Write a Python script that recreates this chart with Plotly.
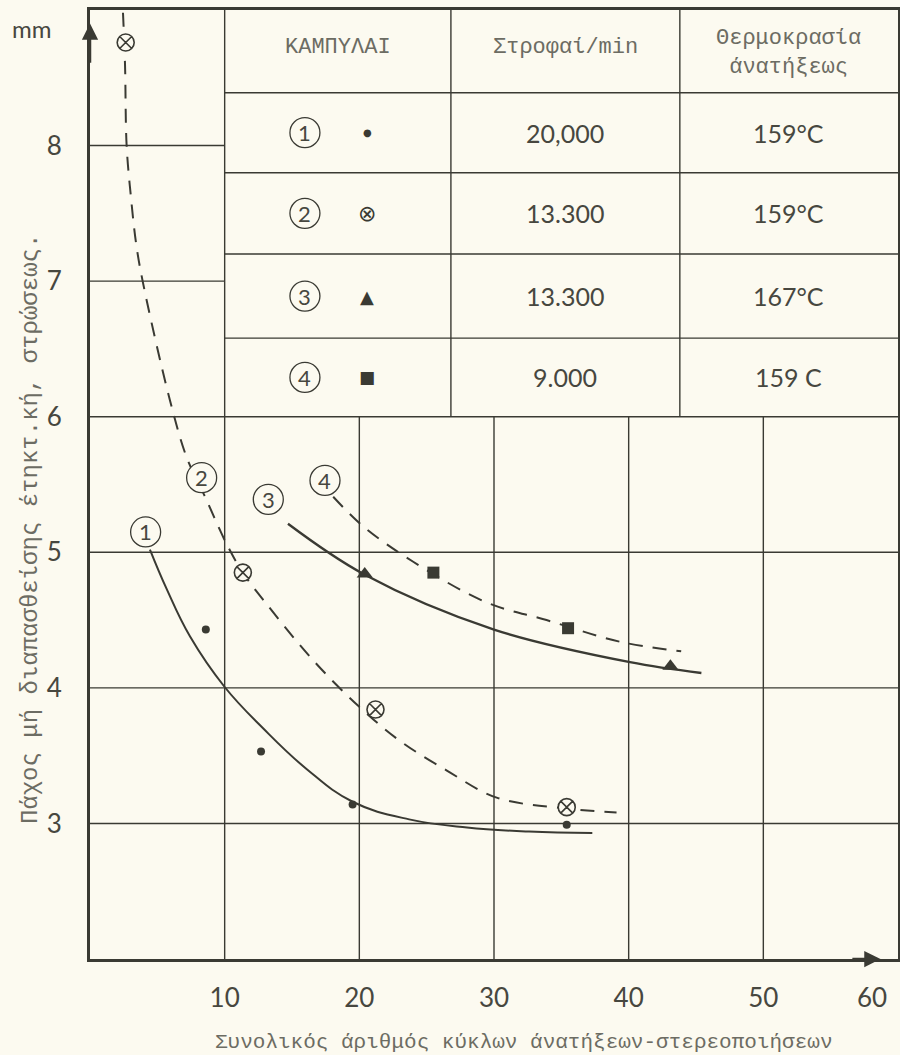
import plotly.graph_objects as go

# ---------------- data ----------------
# measured points
s1_x = [8.6, 12.7, 19.5, 35.4]
s1_y = [4.43, 3.53, 3.14, 2.99]
s2_x = [2.65, 11.35, 21.2, 35.4]
s2_y = [8.76, 4.85, 3.84, 3.12]
s3_x = [20.4, 43.1]
s3_y = [4.84, 4.16]
s4_x = [25.5, 35.5]
s4_y = [4.85, 4.44]

# fitted curves
c1_x = [4.45, 5.69, 7.42, 9.97, 12.87, 16.1, 19.5, 23.7, 28.0, 32.6, 37.3]
c1_y = [5.02, 4.73, 4.38, 4.01, 3.70, 3.40, 3.16, 3.03, 2.97, 2.94, 2.93]
c2_x = [2.45, 2.6, 2.72, 3.04, 3.42, 3.91, 5.94, 7.18, 8.54, 10.15, 11.35, 13.1, 16.6, 20.0, 23.0, 26.5, 30.2, 35.4, 39.1]
c2_y = [8.98, 8.6, 8.0, 7.62, 7.28, 7.0, 6.12, 5.70, 5.41, 5.06, 4.85, 4.62, 4.2, 3.86, 3.61, 3.39, 3.19, 3.11, 3.08]
c3_x = [14.7, 20.3, 30.0, 40.1, 45.4]
c3_y = [5.21, 4.84, 4.43, 4.19, 4.11]
c4_x = [18.06, 20.3, 24.0, 29.45, 33.9, 39.35, 43.9]
c4_y = [5.41, 5.19, 4.93, 4.63, 4.50, 4.34, 4.27]

curve_labels = ["1", "2", "3", "4"]
label_x = [4.13, 8.29, 13.24, 17.45]
label_y = [5.15, 5.55, 5.39, 5.53]

x_ticks = [10, 20, 30, 40, 50]
y_ticks = [3, 4, 5, 6, 7, 8]

table_header = ["ΚΑΜΠΥΛΑΙ", "Στροφαί/min", "Θερμοκρασία<br>άνατήξεως"]
table_symbols = ["●", "⊗", "▲", "■"]
table_rpm = ["20,000", "13.300", "13.300", "9.000"]
table_temp = ["159°C", "159°C", "167°C", "159 C"]

# ---------------- styling ----------------
BG = "#fcfaf0"
INK = "#3a3a33"
TXT = "#47473f"
TYPE = "#6c6c63"
NUMFONT = "Lato, Open Sans, sans-serif"
MONO = "Liberation Mono, DejaVu Sans Mono, monospace"

fig = go.Figure()

# curves
fig.add_trace(go.Scatter(x=c1_x, y=c1_y, mode="lines", line=dict(color=INK, width=2, shape="spline", smoothing=1.2), hoverinfo="skip"))
fig.add_trace(go.Scatter(x=c2_x, y=c2_y, mode="lines", line=dict(color=INK, width=2, dash="14px,10px", shape="spline", smoothing=1.0), hoverinfo="skip"))
fig.add_trace(go.Scatter(x=c3_x, y=c3_y, mode="lines", line=dict(color=INK, width=2.4, shape="spline", smoothing=1.0), hoverinfo="skip"))
fig.add_trace(go.Scatter(x=c4_x, y=c4_y, mode="lines", line=dict(color=INK, width=2, dash="14px,10px", shape="spline", smoothing=1.0), hoverinfo="skip"))

# points
fig.add_trace(go.Scatter(x=s1_x, y=s1_y, mode="markers", marker=dict(symbol="circle", size=8, color=INK)))
fig.add_trace(go.Scatter(x=s2_x, y=s2_y, mode="markers", marker=dict(symbol="circle-x", size=17, color=BG, line=dict(color=INK, width=1.6))))
fig.add_trace(go.Scatter(x=s3_x, y=s3_y, mode="markers", marker=dict(symbol="triangle-up", size=14, color=INK)))
fig.add_trace(go.Scatter(x=s4_x, y=s4_y, mode="markers", marker=dict(symbol="square", size=12, color=INK)))

shapes = []
annotations = []

def circled(xc, yc, txt):
    shapes.append(dict(type="circle", xref="x", yref="y", xsizemode="pixel", ysizemode="pixel",
                       xanchor=xc, yanchor=yc, x0=-15, x1=15, y0=-15, y1=15,
                       line=dict(color=INK, width=1.3), fillcolor=BG, layer="above"))
    annotations.append(dict(x=xc, y=yc, xref="x", yref="y", text=txt, showarrow=False,
                            font=dict(family=NUMFONT, size=22, color=TXT), xanchor="center", yanchor="middle"))

for t, xx, yy in zip(curve_labels, label_x, label_y):
    circled(xx, yy, t)

# grid lines
gl = dict(color=INK, width=1.4)
for v in x_ticks:
    top = 9 if v == 10 else 6
    shapes.append(dict(type="line", xref="x", yref="y", x0=v, x1=v, y0=2, y1=top, line=gl, layer="below"))
for v in y_ticks:
    right = 60 if v <= 6 else 10
    shapes.append(dict(type="line", xref="x", yref="y", x0=0, x1=right, y0=v, y1=v, line=gl, layer="below"))

# table
T_LEFT, T_RIGHT = 10, 60
T_COLS = [26.8, 43.8]
T_ROWS = [8.39, 7.80, 7.20, 6.58]
for cx in T_COLS:
    shapes.append(dict(type="line", xref="x", yref="y", x0=cx, x1=cx, y0=6, y1=9, line=gl, layer="below"))
for ry in T_ROWS:
    shapes.append(dict(type="line", xref="x", yref="y", x0=T_LEFT, x1=T_RIGHT, y0=ry, y1=ry, line=gl, layer="below"))

col_centers = [(T_LEFT + T_COLS[0]) / 2, (T_COLS[0] + T_COLS[1]) / 2, (T_COLS[1] + T_RIGHT) / 2]
row_bounds = [9] + T_ROWS + [6]
row_centers = [(row_bounds[i] + row_bounds[i + 1]) / 2 for i in range(len(row_bounds) - 1)]

for i, h in enumerate(table_header):
    annotations.append(dict(x=col_centers[i], y=row_centers[0] + (0.03 if i < 2 else -0.01), xref="x", yref="y", text=h,
                            showarrow=False, font=dict(family=MONO, size=22, color=TYPE),
                            xanchor="center", yanchor="middle"))

sym_sizes = [10, 22, 18, 17]
for r in range(4):
    yc = row_centers[r + 1]
    circled(15.96, yc, curve_labels[r])
    annotations.append(dict(x=20.6, y=yc, xref="x", yref="y", text=table_symbols[r], showarrow=False,
                            font=dict(family="DejaVu Sans", size=sym_sizes[r], color=INK),
                            xanchor="center", yanchor="middle"))
    annotations.append(dict(x=col_centers[1], y=yc, xref="x", yref="y", text=table_rpm[r], showarrow=False,
                            font=dict(family=NUMFONT, size=25, color=TXT), xanchor="center", yanchor="middle"))
    annotations.append(dict(x=col_centers[2], y=yc, xref="x", yref="y", text=table_temp[r], showarrow=False,
                            font=dict(family=NUMFONT, size=25, color=TXT), xanchor="center", yanchor="middle"))

# axis arrows
annotations.append(dict(x=0, y=8.9, ax=0, ay=8.6, xref="x", yref="y", axref="x", ayref="y", text="",
                        showarrow=True, arrowhead=2, arrowsize=1.3, arrowwidth=2.5, arrowcolor=INK))
annotations.append(dict(x=58.7, y=2, ax=56.5, ay=2, xref="x", yref="y", axref="x", ayref="y", text="",
                        showarrow=True, arrowhead=2, arrowsize=1.3, arrowwidth=2.5, arrowcolor=INK))

# extra labels
annotations.append(dict(x=58.1, y=-0.04, xref="x", yref="paper", text="60", showarrow=False,
                        font=dict(family=NUMFONT, size=26, color=TXT), xanchor="center", yanchor="middle"))
annotations.append(dict(x=-0.072, y=0.981, xref="paper", yref="paper", text="mm", showarrow=False,
                        font=dict(family=NUMFONT, size=24, color=TXT), xanchor="center", yanchor="middle"))
annotations.append(dict(x=0.537, y=-0.0885, xref="paper", yref="paper",
                        text="Συνολικός άριθμός κύκλων άνατήξεων-στερεοποιήσεων", showarrow=False,
                        font=dict(family=MONO, size=21, color=TYPE), xanchor="center", yanchor="middle"))
annotations.append(dict(x=-0.0743, y=0.454, xref="paper", yref="paper", textangle=-90,
                        text="Πάχος μή διαπασθείσης έτηκτ.κή, στρώσεως.", showarrow=False,
                        font=dict(family=MONO, size=24, color=TYPE), xanchor="center", yanchor="middle"))

fig.update_layout(
    width=900, height=1055,
    margin=dict(l=90, r=2, t=10, b=96),
    paper_bgcolor=BG, plot_bgcolor=BG,
    showlegend=False,
    shapes=shapes, annotations=annotations,
    xaxis=dict(range=[0, 60], tickvals=x_ticks, showgrid=False, zeroline=False, automargin=False,
               showline=True, mirror=True, linewidth=3, linecolor=INK, ticks="",
               ticklabelstandoff=14, tickfont=dict(family=NUMFONT, size=26, color=TXT)),
    yaxis=dict(range=[2, 9], tickvals=y_ticks, showgrid=False, zeroline=False, automargin=False,
               showline=True, mirror=True, linewidth=3, linecolor=INK, ticks="",
               ticklabelstandoff=20, tickfont=dict(family=NUMFONT, size=26, color=TXT)),
)

fig.write_html("out.html", config={"displayModeBar": False},
               post_script="document.body.style.margin='0px';document.body.style.background='#fcfaf0';")
